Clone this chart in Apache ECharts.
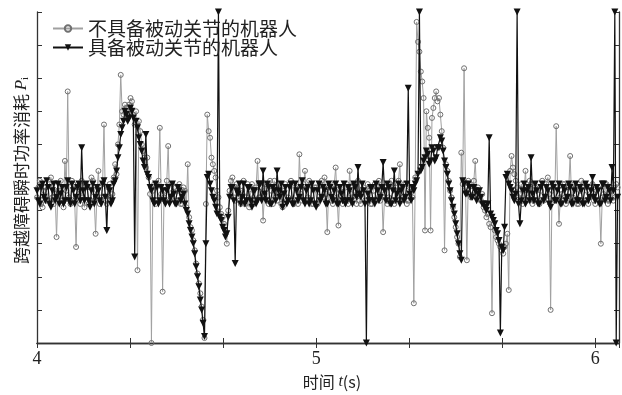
<!DOCTYPE html>
<html>
<head>
<meta charset="utf-8">
<script src="https://cdn.jsdelivr.net/npm/echarts@6/dist/echarts.min.js"></script>
<style>
  html, body { margin: 0; padding: 0; background: #fff; }
  #chart { width: 622px; height: 395px; }
</style>
</head>
<body>
<div id="chart"></div>
<script>
// time grid: one sample every 0.005 s starting at 4.000 s (each row below = 0.1 s)
const tStart = 4.0;
const tStep = 0.005;

const seriesNames = ['不具备被动关节的机器人', '具备被动关节的机器人'];

// 不具备被动关节的机器人 (grey, hollow circles)
const withoutPassive = [
  4.4, 4.7, 4.9, 4.2, 4.1, 4.6, 4.7, 4.3, 4.3, 4.8, 5.0, 4.4, 4.2, 4.5, 3.2, 4.6, 4.6, 4.9, 4.3, 4.1,
  5.5, 4.6, 7.6, 4.4, 4.2, 4.9, 4.8, 4.3, 2.9, 4.7, 4.5, 4.2, 4.9, 4.4, 4.1, 4.8, 4.7, 4.2, 4.3, 5.0,
  4.9, 4.3, 3.3, 4.6, 5.2, 4.2, 4.4, 4.8, 6.6, 4.3, 4.2, 4.7, 4.8, 4.4, 4.5, 5.0, 5.4, 5.1, 6.0, 6.6,
  8.1, 7.0, 6.9, 7.2, 7.1, 6.8, 7.2, 7.4, 7.3, 6.9, 6.6, 7.0, 2.2, 6.7, 6.4, 6.0, 5.8, 5.6, 5.3, 5.6,
  5.0, 4.5, 0.0, 4.6, 4.8, 4.2, 4.3, 4.9, 6.5, 4.5, 1.55, 4.4, 4.6, 4.9, 5.95, 4.3, 4.4, 4.8, 4.7, 4.3,
  4.3, 4.6, 4.8, 4.2, 4.2, 4.7, 4.6, 4.1, 5.4, 3.8, 3.5, 3.4, 3.1, 2.8, 2.4, 2.1, 1.8, 1.5, 1.1, 0.7,
  0.15, 4.2, 6.9, 6.4, 6.2, 5.6, 5.4, 5.2, 5.0, 4.6, 4.4, 4.1, 3.9, 3.8, 3.6, 3.4, 3.0, 4.0, 4.6, 4.9,
  5.0, 4.4, 4.3, 4.8, 4.7, 4.3, 4.2, 4.6, 4.9, 4.2, 4.4, 4.8, 4.1, 4.5, 4.8, 4.2, 4.3, 4.7, 5.5, 4.4,
  4.4, 4.7, 3.7, 4.5, 4.8, 4.3, 4.2, 4.9, 4.6, 4.2, 4.9, 4.4, 4.3, 4.8, 4.7, 4.2, 4.1, 4.6, 4.8, 4.3,
  4.4, 4.8, 4.9, 4.3, 4.2, 4.7, 4.6, 4.2, 5.7, 4.5, 4.3, 4.8, 5.2, 4.3, 4.4, 4.9, 4.8, 4.2, 4.2, 4.7,
  4.7, 4.2, 4.3, 4.8, 4.9, 4.4, 5.0, 4.5, 3.35, 4.7, 4.6, 4.3, 4.2, 4.8, 5.3, 4.4, 3.55, 4.6, 4.7, 4.2,
  4.3, 4.7, 4.8, 4.2, 5.2, 4.5, 4.4, 4.8, 4.6, 4.2, 4.9, 4.3, 4.2, 4.6, 4.7, 4.3, 4.3, 4.8, 4.6, 4.2,
  4.2, 4.6, 4.8, 4.3, 4.5, 4.9, 4.3, 4.6, 3.35, 4.4, 4.7, 4.2, 4.4, 4.8, 4.9, 4.3, 4.2, 4.7, 4.6, 4.9,
  5.4, 4.3, 4.4, 4.8, 4.8, 4.2, 4.3, 4.7, 4.7, 4.4, 1.2, 5.0, 9.7, 9.1, 8.8, 8.2, 7.9, 7.4, 3.4, 7.0,
  6.5, 6.2, 3.4, 6.8, 7.1, 7.4, 7.6, 7.3, 7.4, 6.9, 6.4, 5.9, 2.8, 5.4, 5.2, 4.9, 4.6, 4.4, 4.1, 3.8,
  3.5, 3.2, 3.0, 2.6, 5.75, 4.8, 8.3, 4.7, 2.5, 4.9, 4.8, 4.4, 4.6, 4.9, 5.5, 4.5, 4.7, 4.4, 4.3, 4.5,
  4.1, 4.0, 3.8, 3.9, 3.6, 3.5, 0.9, 3.6, 3.4, 3.2, 3.1, 3.0, 2.9, 2.8, 2.7, 2.9, 3.0, 3.3, 1.6, 5.2,
  5.65, 5.3, 5.1, 4.9, 4.7, 4.4, 4.5, 4.8, 4.2, 4.6, 5.2, 4.3, 4.4, 4.9, 4.8, 4.2, 4.3, 4.7, 4.6, 4.3,
  4.2, 4.6, 4.9, 4.3, 4.4, 4.8, 5.0, 4.5, 1.0, 4.6, 4.7, 4.3, 6.55, 4.7, 3.6, 4.4, 4.5, 4.8, 4.8, 4.2,
  4.3, 4.7, 5.65, 4.4, 4.4, 4.8, 4.7, 4.2, 4.2, 4.6, 4.9, 4.3, 4.3, 4.8, 4.6, 4.2, 4.4, 4.7, 4.8, 4.3,
  4.2, 4.6, 4.7, 4.3, 3.0, 4.4, 4.5, 4.8, 4.8, 4.2, 4.3, 4.7, 4.6, 4.3, 4.4, 4.8, 4.7
];

// 具备被动关节的机器人 (black, down triangles)
const withPassive = [
  4.6, 4.3, 4.2, 4.7, 4.8, 4.4, 4.3, 4.9, 4.7, 4.2, 4.1, 4.6, 4.8, 4.3, 4.4, 4.8, 4.2, 4.5, 4.7, 4.2,
  4.3, 4.7, 4.9, 4.3, 4.2, 4.8, 4.6, 4.2, 4.4, 4.7, 4.8, 4.3, 5.9, 4.6, 4.3, 4.8, 4.7, 4.3, 4.1, 4.6,
  4.8, 4.2, 4.4, 4.7, 4.6, 4.3, 4.2, 4.8, 4.9, 4.4, 3.4, 4.7, 4.6, 4.2, 4.3, 4.8, 4.9, 5.2, 5.6, 5.9,
  6.3, 6.5, 6.7, 7.0, 6.9, 6.7, 6.8, 7.1, 7.0, 6.8, 2.6, 6.7, 6.5, 6.2, 6.0, 5.8, 5.5, 5.3, 6.3, 5.1,
  5.0, 4.7, 4.6, 4.3, 4.2, 4.8, 4.7, 4.2, 4.3, 4.7, 4.6, 4.3, 4.2, 4.6, 4.7, 4.2, 4.4, 4.8, 4.5, 4.2,
  4.2, 4.7, 4.6, 4.3, 4.4, 4.5, 4.2, 4.0, 3.9, 3.6, 3.4, 3.2, 3.0, 2.7, 2.3, 2.0, 1.7, 1.3, 1.0, 0.6,
  0.2, 3.0, 5.0, 5.1, 4.8, 4.6, 4.4, 4.3, 4.1, 3.9, 10, 3.8, 3.7, 3.5, 3.4, 3.2, 3.3, 3.8, 4.4, 4.7,
  4.7, 4.3, 2.4, 4.6, 4.5, 4.8, 4.2, 4.4, 4.8, 4.2, 4.3, 4.7, 4.7, 4.3, 4.1, 4.6, 4.6, 4.2, 4.3, 4.8,
  4.8, 4.3, 5.2, 4.5, 4.3, 4.8, 4.7, 4.2, 4.2, 4.7, 4.6, 4.3, 5.2, 4.6, 4.4, 4.8, 4.1, 4.5, 4.7, 4.2,
  4.3, 4.7, 4.8, 4.2, 4.2, 4.8, 4.6, 4.3, 4.4, 4.7, 4.9, 4.3, 4.2, 4.6, 4.7, 4.2, 4.3, 4.8, 4.6, 4.2,
  4.1, 4.6, 4.8, 4.3, 4.4, 4.7, 4.6, 4.2, 4.2, 4.8, 4.7, 4.4, 4.3, 4.6, 4.8, 4.2, 4.2, 4.7, 4.5, 4.3,
  4.8, 4.2, 4.3, 4.7, 4.6, 4.3, 4.2, 4.8, 4.7, 4.4, 5.3, 4.5, 4.4, 4.8, 4.6, 4.2, 0.0, 4.5, 4.3, 4.7,
  4.7, 4.3, 4.2, 4.8, 4.6, 4.3, 4.4, 4.7, 5.45, 4.6, 4.3, 4.8, 4.7, 4.2, 4.2, 4.6, 5.2, 4.3, 4.5, 4.8,
  4.2, 4.6, 4.7, 4.3, 4.4, 4.8, 7.7, 4.5, 4.3, 4.7, 4.6, 4.8, 4.9, 5.1, 10, 5.2, 5.3, 5.5, 5.6, 5.8,
  5.7, 5.4, 5.5, 5.9, 5.8, 5.5, 5.6, 5.9, 5.9, 6.2, 6.1, 5.8, 5.5, 5.3, 5.1, 4.8, 4.6, 4.3, 4.1, 3.9,
  3.6, 3.3, 3.0, 2.7, 2.5, 4.9, 4.8, 4.5, 4.5, 4.8, 4.7, 4.4, 4.4, 4.7, 4.6, 4.3, 4.5, 4.6, 4.4, 4.2,
  4.2, 4.1, 4.0, 4.2, 6.2, 3.9, 3.8, 3.7, 3.6, 3.4, 3.3, 3.1, 0.3, 2.9, 2.8, 3.5, 5.0, 5.1, 4.8, 4.7,
  4.6, 4.4, 4.3, 4.5, 10, 4.2, 3.6, 4.3, 4.6, 4.8, 4.2, 4.6, 4.7, 4.3, 5.6, 4.5, 4.3, 4.8, 4.6, 4.2,
  4.2, 4.7, 4.8, 4.3, 4.4, 4.7, 4.6, 4.2, 4.1, 4.8, 4.7, 4.3, 4.3, 4.6, 4.8, 4.2, 4.2, 4.7, 4.6, 4.3,
  4.4, 4.8, 4.7, 4.2, 4.2, 4.6, 4.8, 4.3, 4.3, 4.7, 4.6, 4.2, 4.2, 4.8, 4.7, 4.3, 4.4, 4.6, 5.0, 4.4,
  4.3, 4.7, 4.6, 4.2, 4.2, 4.8, 4.8, 4.3, 4.4, 4.7, 4.6, 4.3, 5.3, 4.6, 10, 0, 4.4
];

const toPairs = arr => arr.map((v, i) => [+(tStart + i * tStep).toFixed(3), v]);

const chart = echarts.init(document.getElementById('chart'), null, { renderer: 'canvas' });

const frame = { show: true, lineStyle: { color: '#333', width: 1.3 } };
const ticksIn = { show: true, inside: true, length: 5, lineStyle: { color: '#333', width: 1 } };
const minorIn = { show: true, splitNumber: 3, length: 5, lineStyle: { color: '#333', width: 1 } };

const option = {
  animation: false,
  backgroundColor: '#fff',
  grid: { left: 37, right: 1, top: 12, bottom: 42 },
  legend: {
    orient: 'vertical',
    left: 47,
    top: 14,
    itemWidth: 30,
    itemHeight: 8,
    itemGap: 0,
    textStyle: { color: '#222', fontSize: 19, lineHeight: 19, fontFamily: 'Noto Sans CJK SC' },
    data: seriesNames
  },
  xAxis: [
    {
      type: 'value',
      min: 4,
      max: 6.085,
      interval: 1,
      axisLine: frame,
      axisTick: ticksIn,
      minorTick: minorIn,
      splitLine: { show: false },
      axisLabel: {
        color: '#222', fontSize: 18, margin: 7, fontFamily: 'Liberation Serif',
        formatter: v => (Math.abs(v - Math.round(v)) < 1e-6 ? String(Math.round(v)) : '')
      },
      name: '时间 {t|t}(s)',
      nameLocation: 'middle',
      nameGap: 31,
      nameTextStyle: {
        color: '#222', fontSize: 16, fontFamily: 'Noto Sans CJK SC', padding: [0, 0, 0, 8],
        rich: { t: { fontSize: 16, fontStyle: 'italic', fontFamily: 'Liberation Serif', color: '#222' } }
      }
    },
    {
      type: 'value',
      position: 'top',
      min: 4,
      max: 6.085,
      interval: 1,
      axisLine: frame,
      axisTick: ticksIn,
      minorTick: minorIn,
      axisLabel: { show: false },
      splitLine: { show: false }
    }
  ],
  yAxis: [
    {
      type: 'value',
      min: 0,
      max: 10,
      interval: 1,
      axisLine: frame,
      axisTick: ticksIn,
      axisLabel: { show: false },
      splitLine: { show: false },
      name: '跨越障碍瞬时功率消耗 {p|P}{s|i}',
      nameLocation: 'middle',
      nameGap: 6,
      nameRotate: 90,
      nameTextStyle: {
        color: '#222', fontSize: 17, fontFamily: 'Noto Sans CJK SC', padding: [0, 0, 0, 14],
        rich: {
          p: { fontSize: 17, fontStyle: 'italic', fontFamily: 'Liberation Serif', color: '#222' },
          s: { fontSize: 11, fontFamily: 'Liberation Serif', color: '#222', padding: [8, 0, 0, 0] }
        }
      }
    },
    {
      type: 'value',
      position: 'right',
      min: 0,
      max: 10,
      interval: 1,
      axisLine: frame,
      axisTick: ticksIn,
      axisLabel: { show: false },
      splitLine: { show: false }
    }
  ],
  series: [
    {
      name: seriesNames[0],
      type: 'line',
      data: toPairs(withoutPassive),
      showSymbol: true,
      showAllSymbol: true,
      symbol: 'circle',
      symbolSize: 5,
      lineStyle: { color: '#a0a0a0', width: 1 },
      itemStyle: { color: 'rgba(0,0,0,0)', borderColor: '#707070', borderWidth: 1 },
      z: 2
    },
    {
      name: seriesNames[1],
      type: 'line',
      data: toPairs(withPassive),
      showSymbol: true,
      showAllSymbol: true,
      symbol: 'triangle',
      symbolRotate: 180,
      symbolSize: 7,
      lineStyle: { color: '#111', width: 1.2 },
      itemStyle: { color: '#111' },
      z: 3
    }
  ]
};

chart.setOption(option);
</script>
</body>
</html>
